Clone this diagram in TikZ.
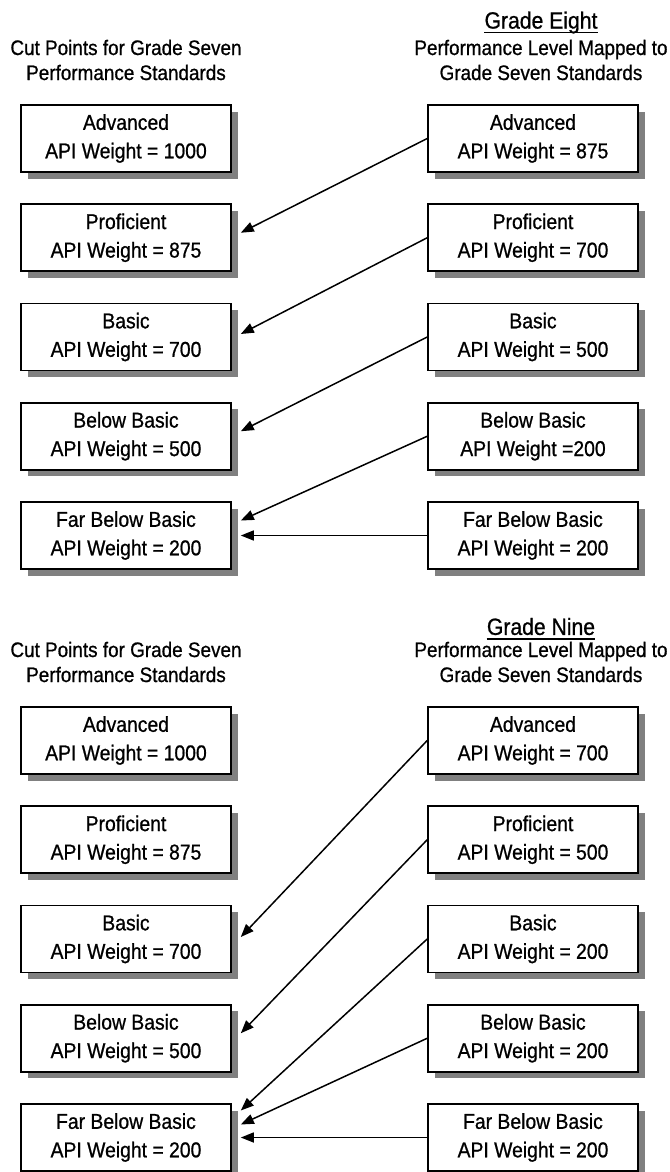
\documentclass[tikz,border=0pt]{standalone}
\usepackage{fontspec}
\setmainfont{Liberation Sans}[FakeStretch=0.9, FakeBold=0.8]
\usetikzlibrary{arrows.meta, shadows}

\tikzset{
  lvlbox/.style={draw, line width=1.6pt, fill=white, minimum width=210pt,
    minimum height=67pt, align=center, font=\fontsize{21.5}{28.5}\selectfont,
    drop shadow={shadow xshift=6.5pt, shadow yshift=-6.5pt, fill=black!50, opacity=1}},
  headtxt/.style={align=center, font=\fontsize{21}{25}\selectfont},
  gradetitle/.style={inner xsep=0pt, font=\fontsize{23.5}{27}\selectfont},
  mapto/.style={line width=1.5pt, -{Triangle[length=13pt,width=10pt]}},
}

\begin{document}
\begin{tikzpicture}[x=1pt, y=-1pt]
  \useasboundingbox (0,0) rectangle (669,1172);

  % grade eight
  \node[gradetitle] (title8) at (541,22.5) {Grade Eight};
  \draw[line width=1.5pt] ([yshift=-4pt]title8.base west) -- ([yshift=-4pt]title8.base east);
  \node[headtxt] (cuthead8) at (126,60) {Cut Points for Grade Seven\\Performance Standards};
  \node[headtxt] (maphead8) at (541,60) {Performance Level Mapped to\\Grade Seven Standards};

  \foreach \y/\lvl/\lw/\rw [count=\i] in {138.5/Advanced/1000/{= 875},
      237.75/Proficient/875/{= 700}, 337/Basic/700/{= 500},
      436.25/Below Basic/500/{=200}, 535.5/Far Below Basic/200/{= 200}}{
    \node[lvlbox] (cut8-\i) at (126,\y) {\lvl\\API Weight = \lw};
    \node[lvlbox] (map8-\i) at (533,\y) {\lvl\\API Weight \rw};
  }

  \foreach \i/\j/\dy in {1/2/5, 2/3/3, 3/4/5, 4/5/15, 5/5/0}
    \draw[mapto] (map8-\i.west) -- ([xshift=9pt,yshift=\dy pt]cut8-\j.east);

  % grade nine
  \node[gradetitle] (title9) at (541,626.5) {Grade Nine};
  \draw[line width=1.5pt] ([yshift=-4pt]title9.base west) -- ([yshift=-4pt]title9.base east);
  \node[headtxt] (cuthead9) at (126,662) {Cut Points for Grade Seven\\Performance Standards};
  \node[headtxt] (maphead9) at (541,662) {Performance Level Mapped to\\Grade Seven Standards};

  \foreach \y/\lvl/\lw/\rw [count=\i] in {740.5/Advanced/1000/700,
      839.75/Proficient/875/500, 939/Basic/700/200,
      1038.25/Below Basic/500/200, 1137.5/Far Below Basic/200/200}{
    \node[lvlbox] (cut9-\i) at (126,\y) {\lvl\\API Weight = \lw};
    \node[lvlbox] (map9-\i) at (533,\y) {\lvl\\API Weight = \rw};
  }

  \foreach \i/\j/\dy in {1/3/2, 2/4/5, 3/5/27, 4/5/13, 5/5/0}
    \draw[mapto] (map9-\i.west) -- ([xshift=9pt,yshift=\dy pt]cut9-\j.east);

\end{tikzpicture}
\end{document}
